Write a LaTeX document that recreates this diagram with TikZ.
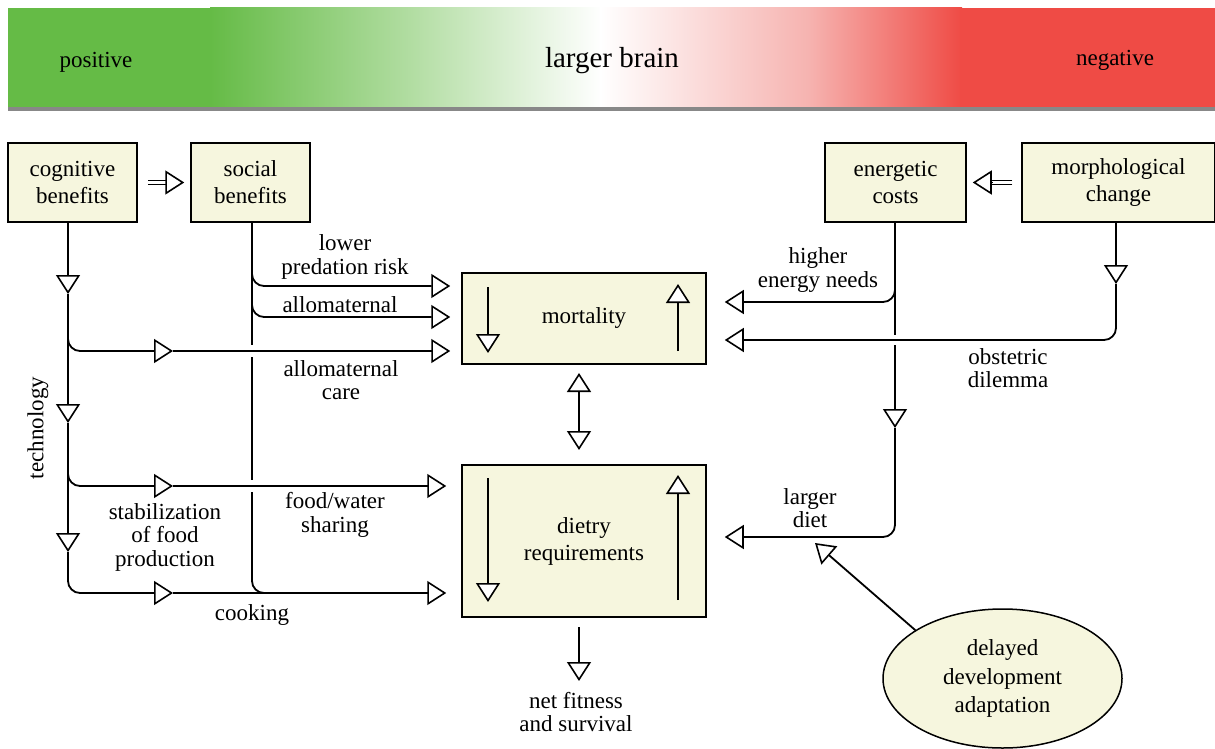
\documentclass[tikz,border=0pt]{standalone}
\usepackage{fontspec}
\setmainfont{Liberation Serif}
\usetikzlibrary{arrows.meta,shapes.geometric}
\definecolor{gr}{RGB}{101,187,70}
\definecolor{rd}{RGB}{239,75,69}
\definecolor{lgr}{RGB}{182,223,167}
\definecolor{pk}{RGB}{246,178,175}
\definecolor{bg}{RGB}{246,246,222}
\definecolor{bargray}{RGB}{136,136,136}
\begin{document}
\begin{tikzpicture}[x=1pt,y=-1pt,
 box/.style={draw,fill=bg,line width=1.5pt,align=center,inner sep=0pt,font=\fontsize{23}{27}\selectfont},
 lbl/.style={align=center,inner sep=0pt,font=\fontsize{23}{23.5}\selectfont},
 conn/.style={line width=1.8pt},
 tri/.style={-{Triangle[length=19pt,width=24pt,fill=white,line width=1.6pt]}},
 bitri/.style={{Triangle[length=19pt,width=24pt,fill=white,line width=1.6pt]}-{Triangle[length=19pt,width=24pt,fill=white,line width=1.6pt]}},
 rc/.style={rounded corners=12pt}
]
\useasboundingbox (0,0) rectangle (1215,749);
% top gradient bar
\fill[gr] (8,8) rectangle (212,107);
\shade[left color=gr,right color=lgr] (210,8) rectangle (422,107);
\shade[left color=lgr,right color=white] (420,8) rectangle (602,107);
\shade[left color=white,right color=pk] (600,8) rectangle (812,107);
\shade[left color=pk,right color=rd] (810,8) rectangle (962,107);
\fill[rd] (960,8) rectangle (1215,107);
\fill[bargray] (8,107) rectangle (1215,111);
\node[lbl] (pos) at (96,62) {positive};
\node[lbl,font=\fontsize{29}{30}\selectfont] (brain) at (612,61) {larger brain};
\node[lbl] (neg) at (1115,60) {negative};

% boxes
\node[box,minimum width=129pt,minimum height=79pt] (cog) at (72.5,182.5) {cognitive\\benefits};
\node[box,minimum width=119pt,minimum height=79pt] (soc) at (250.5,182.5) {social\\benefits};
\node[box,minimum width=141pt,minimum height=79pt] (ene) at (895.5,182.5) {energetic\\costs};
\node[box,minimum width=193pt,minimum height=79pt] (mor) at (1118.5,182.5) {morphological\\change};
\node[box,minimum width=244pt,minimum height=91pt] (mort) at (584,318.5) {mortality};
\node[box,minimum width=244pt,minimum height=152pt] (diet) at (584,541) {dietry\\requirements};
\node[box,ellipse,minimum width=239pt,minimum height=139pt,font=\fontsize{23}{28.5}\selectfont] (ell) at (1002.5,678.5) {delayed\\development\\adaptation};

% double arrows between top boxes
\draw[line width=1.4pt] ([xshift=10pt,yshift=2.2pt]cog.east) -- ([xshift=-22pt,yshift=2.2pt]soc.west);
\draw[line width=1.4pt] ([xshift=10pt,yshift=-2.2pt]cog.east) -- ([xshift=-22pt,yshift=-2.2pt]soc.west);
\draw[tri,line width=1.4pt] ([xshift=-24pt]soc.west) -- ([xshift=-6pt]soc.west);
\draw[line width=1.4pt] ([xshift=-9pt,yshift=2.2pt]mor.west) -- ([xshift=24pt,yshift=2.2pt]ene.east);
\draw[line width=1.4pt] ([xshift=-9pt,yshift=-2.2pt]mor.west) -- ([xshift=24pt,yshift=-2.2pt]ene.east);
\draw[tri,line width=1.4pt] ([xshift=26pt]ene.east) -- ([xshift=6pt]ene.east);

% coordinates
\coordinate (c0) at (68,222);
\coordinate (cA) at (68,294);
\coordinate (cB) at (68,423);
\coordinate (cC) at (68,552);
\coordinate (m1) at (173,351);
\coordinate (m2) at (173,486);
\coordinate (m3) at (173,593);
\coordinate (s0) at (252,222);

% cognitive trunk
\draw[conn,tri] (c0) -- (cA);
\draw[conn,tri] (cA) -- (cB);
\draw[conn,tri] (cB) -- (cC);
\draw[conn,rc,tri] (cA) -- (68,351) -- (m1);
\draw[conn,tri] (m1) -- ([xshift=-11pt]mort.west |- m1);
\draw[conn,rc,tri] (cB) -- (68,486) -- (m2);
\draw[conn,tri] (m2) -- ([xshift=-15pt]diet.west |- m2);
\draw[conn,rc,tri] (cC) -- (68,593) -- (m3);
\draw[conn,tri] (m3) -- ([xshift=-15pt]diet.west |- m3);

% social trunk
\draw[conn] (s0) -- (252,345);
\draw[conn] (252,357) -- (252,480);
\draw[conn,rc] (252,492) -- (252,593) -- (290,593);
\draw[conn,rc,tri] (252,262) -- (252,286) -- ([xshift=-11pt]mort.west |- 0,286);
\draw[conn,rc,tri] (252,293) -- (252,317) -- ([xshift=-11pt]mort.west |- 0,317);

% energetic trunk
\coordinate (eA) at (895,428);
\draw[conn] (895,222) -- (895,335);
\draw[conn,tri] (895,345) -- (eA);
\draw[conn,rc,tri] (eA) -- (895,537) -- ([xshift=18pt]diet.east |- 0,537);
\draw[conn,rc,tri] (895,278) -- (895,302) -- ([xshift=18pt]mort.east |- 0,302);

% morphological trunk
\coordinate (mA) at (1116,284);
\draw[conn,tri] (1116,222) -- (mA);
\draw[conn,rc,tri] (mA) -- (1116,340) -- ([xshift=18pt]mort.east |- 0,340);

% ellipse arrow
\coordinate (dtip) at (815,543);
\draw[conn,tri] (ell.151) -- (dtip);

% mortality <-> diet
\draw[conn,bitri] (579,373) -- (579,450);
% net fitness
\draw[conn,tri] (579,627) -- (579,681);

% internal arrows
\draw[conn,tri] (488,287) -- (488,353);
\draw[conn,tri] (678,351) -- (678,284);
\draw[conn,tri] (488,478) -- (488,602);
\draw[conn,tri] (678,600) -- (678,475);

% labels
\node[lbl] (l1) at (345,257) {lower\\predation risk};
\node[lbl] (l2) at (340,305) {allomaternal};
\node[lbl] (l3) at (341,380) {allomaternal\\care};
\node[lbl,rotate=90] (l4) at (38,428) {technology};
\node[lbl] (l5) at (165,537) {stabilization\\of food\\production};
\node[lbl] (l6) at (335,515) {food/water\\sharing};
\node[lbl] (l7) at (252,615) {cooking};
\node[lbl] (l8) at (818,270) {higher\\energy needs};
\node[lbl] (l9) at (1008,368) {obstetric\\dilemma};
\node[lbl] (l10) at (810,508) {larger\\diet};
\node[lbl] (l11) at (576,712) {net fitness\\and survival};
\end{tikzpicture}
\end{document}
